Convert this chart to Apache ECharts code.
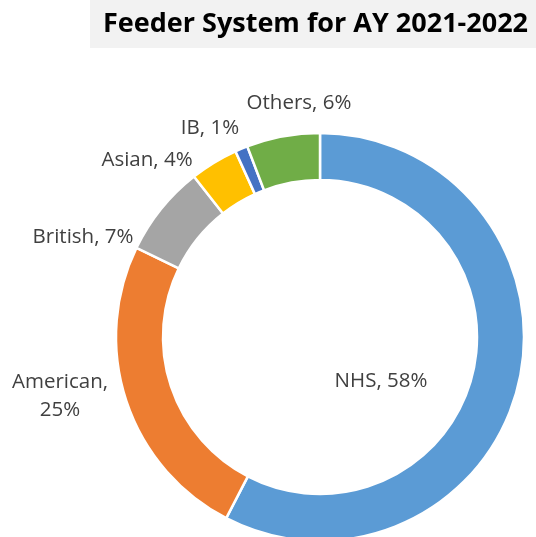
<!DOCTYPE html>
<html><head><meta charset="utf-8">
<script src="https://cdn.jsdelivr.net/npm/echarts@6/dist/echarts.min.js"></script>
<style>html,body{margin:0;padding:0;background:#fff}#c{width:536px;height:537px}</style>
</head><body><div id="c"></div>
<script>
const categories = ['NHS', 'American', 'British', 'Asian', 'IB', 'Others'];
const shares = [57.6, 24.6, 7.2, 3.8, 1.0, 5.8];
const colors = ['#5B9BD5', '#ED7D31', '#A5A5A5', '#FFC000', '#4472C4', '#70AD47'];
const labelPos = [[381, 381], [60, 396], [83, 237], [147, 160], [210, 128], [299, 103]];

const chart = echarts.init(document.getElementById('c'));
chart.setOption({
  animation: false,
  title: {
    text: 'Feeder System for AY 2021-2022',
    left: 90, top: 0,
    backgroundColor: '#F2F2F2',
    padding: [11, 10, 10, 13],
    textStyle: { fontFamily: 'Open Sans', fontWeight: 'bold', fontSize: 27, color: '#000' }
  },
  series: [{
    type: 'pie',
    center: [320, 337],
    radius: [157, 204],
    startAngle: 90,
    clockwise: true,
    data: categories.map((n, i) => ({ name: n, value: shares[i], itemStyle: { color: colors[i] } })),
    itemStyle: { borderColor: '#fff', borderWidth: 2.5 },
    label: {
      show: true,
      position: 'outside',
      overflow: 'none',
      width: 300,
      fontFamily: 'Open Sans',
      fontSize: 20.5,
      color: '#404040',
      lineHeight: 28,
      formatter: p => p.name === 'American' ? p.name + ',\n' + Math.round(p.value) + '%' : p.name + ', ' + Math.round(p.value) + '%'
    },
    labelLine: { show: false },
    labelLayout: p => ({ x: labelPos[p.dataIndex][0], y: labelPos[p.dataIndex][1], align: 'center', verticalAlign: 'middle', hideOverlap: false })
  }]
});
</script></body></html>
